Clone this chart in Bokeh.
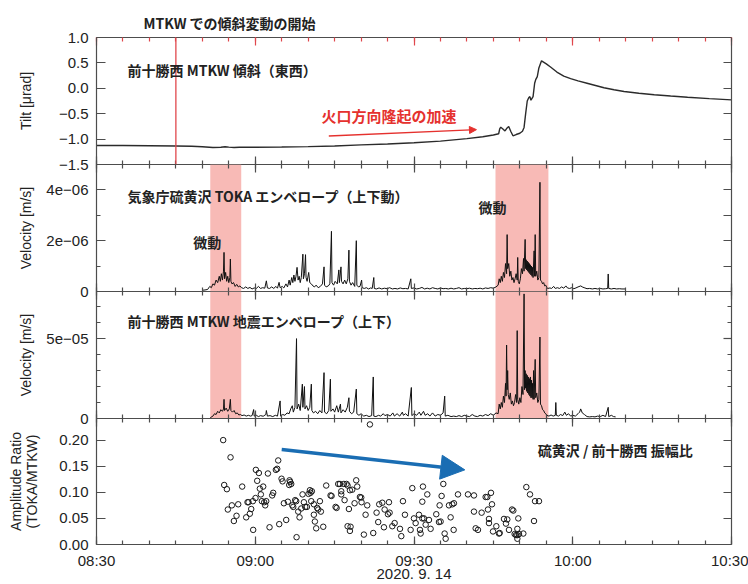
from bokeh.plotting import figure
from bokeh.layouts import column
from bokeh.models import (Range1d, LinearAxis, FixedTicker, CustomJSTickFormatter,
                          Span, BoxAnnotation, Label, Arrow, NormalHead, Title)
from bokeh.embed import file_html
from bokeh.resources import INLINE

# ---------------- data (time in minutes after 08:30, 2020-09-14) ----------------
x_tick_minutes = [0, 30, 60, 90, 120]
x_minor_minutes = list(range(0, 121, 5))
start_clock_minutes = 8 * 60 + 30
date_label = "2020. 9. 14"

tilt_min = [0, 5, 10, 15, 18, 20, 22, 23.5, 24.3, 25, 26, 27, 30, 35, 40, 45, 50, 55, 60, 65,
            70, 73, 75, 76.0, 76.2, 76.4, 76.8, 77.2, 77.6, 77.9, 78.3, 78.7, 79.3, 80.0, 80.5,
            80.8, 81.1, 81.4, 81.7, 81.9, 82.1, 82.3, 82.5, 82.8, 83.0, 83.3, 83.6, 84.1, 85.0,
            85.8, 87.0, 88.3, 89.6, 91.0, 92.7, 94.3, 95.9, 97.8, 99.7, 102.5, 105.4, 108.5,
            111.7, 115.8, 120.0]
tilt_urad = [-1.125, -1.127, -1.13, -1.135, -1.14, -1.15, -1.165, -1.16, -1.15, -1.158,
             -1.165, -1.16, -1.16, -1.155, -1.148, -1.135, -1.113, -1.095, -1.072, -1.04,
             -0.99, -0.955, -0.92, -0.895, -0.80, -0.765, -0.80, -0.84, -0.78, -0.75,
             -0.85, -0.935, -0.91, -0.885, -0.845, -0.77, -0.50, -0.25, -0.18, -0.165,
             -0.235, -0.20, -0.165, 0.10, 0.17, 0.23, 0.40, 0.54, 0.48, 0.42,
             0.32, 0.24, 0.19, 0.145, 0.10, 0.055, 0.01, -0.028, -0.062, -0.097,
             -0.128, -0.153, -0.176, -0.203, -0.228]

# TOKA envelope: (minute, velocity in 1e-6 m/s)
toka_pairs = [
    (20.0, 0.05), (20.5, 0.06), (21.0, 0.08), (21.4, 0.20), (21.7, 0.15), (22.0, 0.30), (22.3, 0.25),
    (22.6, 0.45), (22.9, 0.35), (23.2, 0.60), (23.4, 0.40), (23.6, 0.70), (23.8, 0.45), (24.0, 0.80),
    (24.1, 1.54), (24.2, 0.50), (24.4, 0.75), (24.6, 0.40), (24.8, 0.60), (25.0, 0.35), (25.2, 0.55),
    (25.3, 1.28), (25.4, 0.40), (25.6, 0.30), (25.9, 0.35), (26.2, 0.20), (26.5, 0.28), (26.8, 0.18),
    (27.1, 0.22), (27.4, 0.15), (27.8, 0.12), (28.2, 0.18), (28.6, 0.12), (29.0, 0.16), (29.4, 0.10),
    (29.8, 0.14), (30.2, 0.12), (30.6, 0.20), (31.0, 0.12), (31.4, 0.15), (31.8, 0.13), (32.1, 0.42),
    (32.3, 0.14), (32.7, 0.12), (33.1, 0.18), (33.5, 0.12), (33.9, 0.20), (34.2, 0.13), (34.5, 0.36),
    (34.7, 0.15), (35.1, 0.20), (35.4, 0.14), (35.8, 0.30), (36.1, 0.18), (36.4, 0.45), (36.6, 0.25),
    (36.9, 0.55), (37.1, 0.35), (37.3, 0.65), (37.5, 0.40), (37.7, 0.60), (37.9, 0.95), (38.1, 0.45),
    (38.3, 0.60), (38.5, 0.35), (38.7, 0.55), (39.0, 1.47), (39.1, 0.50), (39.3, 0.70), (39.5, 1.45),
    (39.6, 0.55), (39.8, 0.40), (40.1, 0.75), (40.3, 0.35), (40.6, 0.30), (40.9, 0.22), (41.2, 0.18),
    (41.5, 0.25), (41.9, 0.15), (42.3, 0.20), (42.7, 0.30), (43.0, 0.97), (43.1, 0.25), (43.4, 0.18),
    (43.8, 0.22), (44.1, 0.30), (44.4, 2.37), (44.5, 0.35), (44.8, 0.25), (45.1, 0.40), (45.5, 0.30),
    (45.8, 0.85), (45.9, 0.35), (46.2, 0.97), (46.3, 0.40), (46.6, 0.30), (46.9, 0.45), (47.2, 0.30),
    (47.5, 0.50), (47.7, 1.63), (47.8, 0.40), (48.1, 0.25), (48.4, 0.35), (48.8, 0.20), (49.1, 2.00),
    (49.2, 0.25), (49.5, 0.18), (49.8, 0.20), (50.1, 0.45), (50.2, 0.15), (50.6, 0.12), (51.0, 0.15),
    (51.4, 0.10), (51.8, 0.14), (52.1, 0.12), (52.4, 0.55), (52.5, 0.12), (52.9, 0.10), (53.4, 0.14),
    (53.9, 0.10), (54.4, 0.13), (54.9, 0.11), (55.4, 0.15), (55.9, 0.10), (56.4, 0.12), (56.9, 0.10),
    (57.4, 0.14), (57.9, 0.11), (58.4, 0.12), (58.9, 0.10), (59.4, 0.50), (59.5, 0.12), (60.0, 0.14),
    (60.5, 0.10), (61.0, 0.12), (61.5, 0.16), (62.0, 0.10), (62.5, 0.13), (63.0, 0.10), (63.5, 0.15),
    (64.0, 0.12), (64.5, 0.10), (65.0, 0.14), (65.5, 0.11), (66.0, 0.12), (66.5, 0.10), (67.0, 0.13),
    (67.5, 0.10), (68.0, 0.12), (68.5, 0.15), (69.0, 0.10), (69.5, 0.12), (70.0, 0.11), (70.5, 0.13),
    (71.0, 0.10), (71.5, 0.12), (72.0, 0.11), (72.5, 0.13), (73.0, 0.10), (73.5, 0.14), (74.0, 0.12),
    (74.5, 0.15), (75.0, 0.13), (75.5, 0.18), (75.9, 0.25), (76.1, 0.50), (76.3, 0.35), (76.5, 0.60),
    (76.7, 0.40), (76.9, 0.75), (77.1, 0.55), (77.3, 1.10), (77.5, 0.70), (77.6, 2.24), (77.7, 0.90),
    (77.9, 1.10), (78.1, 0.60), (78.3, 0.80), (78.5, 0.45), (78.7, 0.55), (78.9, 0.35), (79.1, 0.50),
    (79.3, 0.70), (79.5, 0.45), (79.6, 1.34), (79.7, 0.40), (79.9, 0.30), (80.1, 0.50), (80.3, 0.90),
    (80.5, 0.70), (80.7, 1.30), (80.8, 0.80), (81.0, 2.05), (81.1, 0.90), (81.2, 1.25), (81.3, 0.85),
    (81.4, 1.20), (81.5, 0.80), (81.6, 1.15), (81.7, 0.75), (81.8, 1.10), (81.9, 0.70), (82.0, 1.05),
    (82.1, 0.65), (82.2, 1.00), (82.3, 0.60), (82.4, 0.95), (82.5, 0.55), (82.7, 1.60), (82.8, 0.60),
    (82.9, 2.24), (83.0, 0.60), (83.2, 0.80), (83.4, 0.45), (83.6, 0.55), (83.8, 4.30), (83.9, 0.45),
    (84.1, 0.40), (84.3, 0.30), (84.5, 0.35), (84.7, 0.22), (84.9, 0.25), (85.1, 0.15), (85.3, 0.12),
    (85.7, 0.14), (86.0, 0.12), (86.4, 0.20), (86.7, 0.12), (87.1, 0.15), (87.5, 0.12), (87.9, 0.18),
    (88.3, 0.13), (88.7, 0.22), (89.0, 0.14), (89.4, 0.12), (89.8, 0.15), (90.2, 0.11), (90.6, 0.14),
    (91.0, 0.18), (91.5, 0.22), (91.9, 0.17), (92.3, 0.14), (92.7, 0.11), (93.2, 0.12), (93.7, 0.10),
    (94.2, 0.12), (94.7, 0.10), (95.2, 0.12), (95.7, 0.10), (96.2, 0.11), (96.6, 0.12), (96.7, 0.69),
    (96.8, 0.12), (97.3, 0.10), (97.8, 0.12), (98.3, 0.10), (98.8, 0.11), (99.3, 0.10), (100.0, 0.10),
]

# MTKW envelope: (minute, velocity in 1e-5 m/s)
mtkw_pairs = [
    (21.5, 0.05), (22.0, 0.15), (22.3, 0.30), (22.6, 0.25), (22.9, 0.45), (23.2, 0.35), (23.5, 0.55),
    (23.8, 0.45), (24.0, 0.60), (24.1, 1.20), (24.2, 0.50), (24.5, 0.65), (24.8, 0.45), (25.1, 0.60),
    (25.3, 1.20), (25.4, 0.50), (25.7, 0.40), (26.0, 0.50), (26.3, 0.30), (26.6, 0.35), (26.9, 0.22),
    (27.2, 0.25), (27.5, 0.18), (27.9, 0.22), (28.3, 0.15), (28.7, 0.20), (29.1, 0.15), (29.4, 0.18),
    (29.7, 0.56), (29.8, 0.15), (30.2, 0.20), (30.6, 0.12), (31.0, 0.18), (31.5, 0.14), (32.0, 0.25),
    (32.1, 0.50), (32.3, 0.15), (32.8, 0.18), (33.3, 0.12), (33.8, 0.20), (34.2, 0.15), (34.7, 1.10),
    (34.8, 0.15), (35.2, 0.25), (35.6, 0.20), (36.0, 0.35), (36.4, 0.30), (36.7, 0.60), (37.0, 0.80),
    (37.2, 0.40), (37.5, 0.70), (37.8, 5.00), (37.9, 0.60), (38.2, 0.90), (38.5, 0.50), (38.9, 2.15),
    (39.0, 0.70), (39.3, 2.00), (39.4, 0.60), (39.7, 0.80), (40.0, 0.50), (40.3, 0.70), (40.6, 2.15),
    (40.7, 0.50), (41.0, 0.35), (41.4, 0.45), (41.8, 0.30), (42.2, 0.50), (42.6, 0.35), (43.0, 2.87),
    (43.1, 0.40), (43.5, 0.30), (43.9, 0.50), (44.2, 2.46), (44.3, 0.45), (44.7, 0.60), (45.0, 0.40),
    (45.4, 0.80), (45.7, 0.40), (46.1, 0.90), (46.2, 0.35), (46.6, 0.55), (47.0, 0.40), (47.4, 0.70),
    (47.7, 1.30), (47.8, 0.45), (48.2, 0.30), (48.6, 0.40), (49.1, 1.84), (49.2, 0.30), (49.6, 0.20),
    (50.0, 0.30), (50.5, 0.15), (51.0, 0.20), (51.5, 0.12), (52.0, 0.18), (52.3, 2.60), (52.4, 0.15),
    (52.8, 0.12), (53.3, 0.20), (53.7, 0.15), (54.2, 0.30), (54.5, 0.18), (55.0, 0.25), (55.5, 0.15),
    (56.0, 0.35), (56.3, 0.15), (56.8, 0.30), (57.3, 0.15), (57.8, 0.40), (58.0, 0.20), (58.4, 0.30),
    (58.9, 0.15), (59.5, 1.94), (59.6, 0.18), (60.0, 0.30), (60.5, 0.20), (61.0, 0.40), (61.3, 0.20),
    (61.8, 0.45), (62.1, 0.20), (62.6, 0.30), (63.0, 0.15), (63.5, 0.35), (64.0, 0.15), (64.5, 0.25),
    (65.0, 0.20), (65.5, 0.35), (65.8, 1.40), (65.9, 0.15), (66.4, 0.20), (67.0, 0.12), (67.5, 0.15),
    (68.0, 0.12), (68.5, 0.18), (69.0, 0.12), (69.5, 0.20), (70.0, 0.15), (70.5, 0.12), (71.0, 0.25),
    (71.5, 0.15), (72.0, 0.12), (72.5, 0.20), (73.0, 0.15), (73.5, 0.25), (74.0, 0.18), (74.5, 0.30),
    (75.0, 0.20), (75.5, 0.35), (75.9, 0.30), (76.1, 0.90), (76.3, 0.60), (76.5, 1.00), (76.7, 0.70),
    (76.9, 1.40), (77.1, 1.00), (77.3, 2.20), (77.4, 1.40), (77.5, 4.60), (77.6, 1.80), (77.7, 3.00),
    (77.8, 1.50), (78.0, 1.20), (78.2, 1.60), (78.4, 0.90), (78.6, 1.10), (78.8, 0.80), (79.0, 1.00),
    (79.2, 1.50), (79.4, 1.00), (79.5, 5.50), (79.6, 1.20), (79.8, 0.90), (80.0, 1.30), (80.2, 1.00),
    (80.4, 2.00), (80.6, 1.50), (80.8, 7.80), (80.9, 1.80), (81.0, 3.00), (81.1, 1.90), (81.2, 2.80),
    (81.3, 1.70), (81.4, 2.70), (81.5, 1.60), (81.6, 2.60), (81.7, 1.50), (81.8, 2.50), (81.9, 1.40),
    (82.0, 2.60), (82.1, 1.30), (82.2, 2.40), (82.3, 1.30), (82.4, 2.20), (82.5, 1.20), (82.6, 3.00),
    (82.7, 1.20), (82.9, 3.70), (83.0, 1.30), (83.2, 1.60), (83.4, 1.00), (83.6, 1.20), (83.8, 5.10),
    (83.9, 0.90), (84.1, 0.80), (84.3, 0.55), (84.5, 0.50), (84.7, 0.35), (84.9, 0.30), (85.1, 0.20),
    (85.5, 0.15), (85.9, 0.22), (86.3, 0.15), (86.7, 0.20), (86.8, 1.00), (86.9, 0.20), (87.3, 0.15),
    (87.7, 0.25), (88.1, 0.18), (88.5, 0.40), (88.8, 0.20), (89.2, 0.30), (89.6, 0.15), (90.0, 0.20),
    (90.5, 0.15), (91.0, 0.30), (91.3, 0.40), (91.5, 0.60), (91.8, 0.35), (92.2, 0.25), (92.7, 0.12),
    (93.2, 0.10), (93.7, 0.12), (94.2, 0.10), (94.7, 0.15), (95.2, 0.12), (95.7, 0.20), (96.2, 0.12),
    (96.7, 0.70), (96.8, 0.12), (97.3, 0.20), (97.7, 0.12), (98.1, 0.10),
]

# Amplitude ratio TOKA/MTKW: (minute, ratio)
ratio_pairs = [
    (23.94, 0.200), (25.33, 0.167), (24.13, 0.114), (24.64, 0.106), (24.82, 0.067), (25.58, 0.075),
    (26.78, 0.077), (25.96, 0.045), (26.46, 0.055), (27.53, 0.111), (28.54, 0.081), (28.73, 0.081),
    (28.29, 0.052), (28.98, 0.059), (29.24, 0.068), (29.55, 0.083), (29.61, 0.028), (30.05, 0.089),
    (30.12, 0.143), (30.37, 0.122), (30.68, 0.137), (30.87, 0.107), (31.06, 0.096), (31.25, 0.083),
    (31.50, 0.111), (31.69, 0.081), (31.88, 0.075), (32.07, 0.083), (32.39, 0.136), (32.70, 0.033),
    (33.20, 0.094), (33.39, 0.099), (33.90, 0.143), (34.15, 0.145), (34.34, 0.161), (34.53, 0.039),
    (34.97, 0.126), (35.16, 0.121), (35.41, 0.079), (35.85, 0.047), (36.17, 0.082), (36.42, 0.114),
    (36.48, 0.123), (36.61, 0.120), (36.80, 0.116), (36.99, 0.075), (37.18, 0.072), (37.55, 0.085),
    (37.74, 0.083), (37.81, 0.014), (38.12, 0.063), (38.37, 0.052), (38.69, 0.069), (38.94, 0.096),
    (39.19, 0.081), (39.44, 0.072), (39.76, 0.072), (40.07, 0.097), (40.33, 0.104), (40.45, 0.099),
    (40.70, 0.102), (40.58, 0.083), (41.08, 0.077), (41.08, 0.057), (41.27, 0.044), (41.52, 0.031),
    (41.71, 0.070), (41.90, 0.067), (42.22, 0.083), (42.40, 0.063), (42.85, 0.034), (43.41, 0.113),
    (44.23, 0.094), (44.42, 0.093), (45.18, 0.072), (45.37, 0.070), (45.68, 0.116), (46.00, 0.116),
    (46.25, 0.102), (46.25, 0.096), (46.75, 0.116), (46.88, 0.085), (47.26, 0.116), (47.45, 0.113),
    (47.89, 0.104), (47.70, 0.068), (47.45, 0.035), (47.89, 0.026), (48.01, 0.034), (48.33, 0.105),
    (48.77, 0.079), (49.08, 0.123), (49.27, 0.111), (49.78, 0.091), (50.03, 0.090), (50.09, 0.081),
    (50.53, 0.019), (50.85, 0.057), (51.16, 0.075), (51.67, 0.230), (52.30, 0.022), (52.93, 0.061),
    (53.24, 0.043), (53.43, 0.077), (54.01, 0.080), (54.45, 0.067), (55.27, 0.081), (55.08, 0.058),
    (55.39, 0.061), (54.32, 0.033), (55.90, 0.035), (56.34, 0.041), (57.35, 0.030), (57.60, 0.016),
    (57.91, 0.083), (58.29, 0.057), (59.36, 0.028), (59.68, 0.108), (60.31, 0.041), (59.99, 0.050),
    (60.94, 0.057), (61.13, 0.028), (61.25, 0.021), (61.57, 0.082), (61.69, 0.111), (61.57, 0.050),
    (61.88, 0.050), (62.51, 0.096), (62.20, 0.038), (62.83, 0.047), (63.14, 0.030), (64.21, 0.058),
    (64.72, 0.043), (65.03, 0.044), (64.84, 0.075), (65.22, 0.093), (65.54, 0.116), (65.79, 0.021),
    (65.98, 0.011), (66.61, 0.075), (66.92, 0.052), (67.24, 0.077), (67.55, 0.079), (67.49, 0.028),
    (68.31, 0.096), (70.20, 0.096), (71.33, 0.094), (71.33, 0.063), (71.65, 0.031), (72.09, 0.028),
    (72.78, 0.061), (73.54, 0.091), (73.85, 0.091), (73.98, 0.067), (74.17, 0.049), (74.17, 0.041),
    (74.55, 0.099), (74.74, 0.077), (74.93, 0.025), (75.56, 0.035), (76.06, 0.021), (76.19, 0.022),
    (77.00, 0.049), (77.38, 0.040), (77.63, 0.048), (77.95, 0.028), (78.52, 0.067), (78.77, 0.065),
    (79.02, 0.020), (79.27, 0.018), (79.53, 0.018), (79.71, 0.050), (79.53, 0.011), (79.53, 0.030),
    (79.84, 0.020), (80.66, 0.021), (81.23, 0.110), (81.92, 0.096), (82.68, 0.045), (82.87, 0.083),
    (83.62, 0.083),
]

tremor_windows = [(21.5, 27.35), (75.4, 85.4)]   # minutes after 08:30
tilt_onset_min = 15.0                            # 08:45

toka_min = [a for a, b in toka_pairs]
toka_vel = [b * 1e-6 for a, b in toka_pairs]
mtkw_min = [a for a, b in mtkw_pairs]
mtkw_vel = [b * 1e-5 for a, b in mtkw_pairs]
ratio_min = [a for a, b in ratio_pairs]
ratio_val = [b for a, b in ratio_pairs]

# ---------------- styling ----------------
LAT = "Liberation Sans"
JP = "Noto Sans CJK JP"
EDGE = "#4d4d4d"
TXT = "#222222"
RED = "#e5312e"
PINK = "#f8bab6"
BLUE = "#1a6db3"
PAD = 10          # transparent overlap band between stacked panels


def base(height, yr, top=PAD, bottom=PAD, overlap=True):
    p = figure(width=748, height=height, x_range=Range1d(0, 120), y_range=Range1d(*yr),
               output_backend="svg", toolbar_location=None,
               x_axis_location=None, y_axis_location=None,
               min_border_left=96, min_border_right=17,
               min_border_top=top, min_border_bottom=bottom,
               margin=(-2 * PAD, 0, 0, 0) if overlap else (0, 0, 0, 0))
    p.outline_line_color = None
    p.grid.visible = False
    p.border_fill_color = None
    p.background_fill_color = None
    return p


def blank_labels(ax):
    ax.formatter = CustomJSTickFormatter(code="return '';")
    ax.major_label_text_font_size = "0px"
    ax.major_label_standoff = 0


def add_xaxes(p, labels=False, top_line=True, top_tick_color=EDGE):
    for loc in ("above", "below"):
        ax = LinearAxis(ticker=FixedTicker(ticks=x_tick_minutes, minor_ticks=x_minor_minutes))
        ax.major_tick_in = 8
        ax.major_tick_out = 0
        ax.minor_tick_in = 4
        ax.minor_tick_out = 0
        col = top_tick_color if loc == "above" else EDGE
        ax.major_tick_line_color = col
        ax.minor_tick_line_color = col
        ax.major_tick_line_width = 1.2
        ax.minor_tick_line_width = 1.2
        ax.axis_line_color = EDGE if (loc == "below" or top_line) else None
        ax.axis_line_width = 1.2
        if labels and loc == "below":
            ax.formatter = CustomJSTickFormatter(
                args=dict(s=start_clock_minutes),
                code="const m = Math.round(s + tick); const h = Math.floor(m/60), mm = m % 60;"
                     "return String(h).padStart(2,'0') + ':' + String(mm).padStart(2,'0');")
            ax.major_label_text_font = LAT
            ax.major_label_text_font_size = "15px"
            ax.major_label_text_color = TXT
            ax.major_label_standoff = 7
            ax.axis_label = date_label
            ax.axis_label_text_font = LAT
            ax.axis_label_text_font_size = "15px"
            ax.axis_label_text_font_style = "normal"
            ax.axis_label_text_color = TXT
            ax.axis_label_standoff = -7
        else:
            blank_labels(ax)
        p.add_layout(ax, loc)


def add_yaxes(p, left_major, left_minor, right_major, right_minor, code, label, standoff,
              label_line_height=1.2):
    left = LinearAxis(ticker=FixedTicker(ticks=left_major, minor_ticks=left_minor),
                      formatter=CustomJSTickFormatter(code=code))
    left.major_tick_in = 9
    left.major_tick_out = 0
    left.minor_tick_in = 4
    left.minor_tick_out = 0
    left.major_tick_line_color = EDGE
    left.minor_tick_line_color = EDGE
    left.major_tick_line_width = 1.2
    left.minor_tick_line_width = 1.2
    left.axis_line_color = EDGE
    left.axis_line_width = 1.2
    left.major_label_standoff = 8
    left.major_label_text_font = LAT
    left.major_label_text_font_size = "15px"
    left.major_label_text_color = TXT
    left.axis_label = label
    left.axis_label_text_font = LAT
    left.axis_label_text_font_size = "14px"
    left.axis_label_text_font_style = "normal"
    left.axis_label_text_color = TXT
    left.axis_label_standoff = standoff
    left.axis_label_text_line_height = label_line_height
    p.add_layout(left, "left")

    right = LinearAxis(ticker=FixedTicker(ticks=right_major, minor_ticks=right_minor))
    right.major_tick_in = 8
    right.major_tick_out = 0
    right.minor_tick_in = 4
    right.minor_tick_out = 0
    right.major_tick_line_color = EDGE
    right.minor_tick_line_color = EDGE
    right.major_tick_line_width = 1.2
    right.minor_tick_line_width = 1.2
    right.axis_line_color = EDGE
    right.axis_line_width = 1.2
    blank_labels(right)
    p.add_layout(right, "right")


def jp_label(p, x, y, text, color=TXT, size="14px"):
    p.add_layout(Label(x=x, y=y, text=text, text_font=JP, text_font_size=size,
                       text_font_style="bold", text_color=color,
                       text_align="left", text_baseline="middle"))


# ---------------- panel 1: tilt ----------------
p1 = base(164 + PAD, (-1.5, 1.0), top=37, overlap=False)
add_yaxes(p1, [-1.5, -1.0, -0.5, 0.0, 0.5, 1.0], [], [-1.0, -0.5, 0.0, 0.5], [],
          "return (tick < 0 ? '\u2212' : '') + Math.abs(tick).toFixed(1);",
          "Tilt [\u03bcrad]", 22)
add_xaxes(p1, top_tick_color="#e0474c")
p1.add_layout(Span(location=tilt_onset_min, dimension="height", line_color="#e0474c", line_width=1.3))
p1.line(tilt_min, tilt_urad, line_color="#2b2b2b", line_width=1.4)
p1.add_layout(Title(text="MTKW での傾斜変動の開始", align="left", offset=47, standoff=9,
                    text_font=JP, text_font_size="14px", text_font_style="bold",
                    text_color=TXT), "above")
jp_label(p1, 5.86, 0.356, "前十勝西 MTKW 傾斜（東西）")
jp_label(p1, 42.5, -0.54, "火口方向隆起の加速", color=RED, size="15px")
p1.add_layout(Arrow(x_start=43.9, y_start=-0.939, x_end=71.8, y_end=-0.814,
                    line_color=RED, line_width=1.3,
                    end=NormalHead(size=7, fill_color=RED, line_color=RED)))

# ---------------- panel 2: TOKA envelope ----------------
p2 = base(127 + 2 * PAD, (0, 5.0e-6))
add_yaxes(p2, [0, 2e-6, 4e-6], [1e-6, 3e-6], [1e-6, 2e-6, 3e-6, 4e-6], [],
          "if (Math.abs(tick) < 1e-12) return '0'; return Math.round(tick*1e6) + 'e\u221206';",
          "Velocity [m/s]", 9)
add_xaxes(p2, top_line=False)
for a, b in tremor_windows:
    p2.add_layout(BoxAnnotation(left=a, right=b, fill_color=PINK, fill_alpha=1.0,
                                line_color=None, level="underlay"))
p2.line(toka_min, toka_vel, line_color="#111111", line_width=1.0)
jp_label(p2, 5.86, 3.75e-6, "気象庁硫黄沢 TOKA エンベロープ（上下動）")
jp_label(p2, 18.3, 1.96e-6, "微動")
jp_label(p2, 72.2, 3.31e-6, "微動")

# ---------------- panel 3: MTKW envelope ----------------
p3 = base(127 + 2 * PAD, (0, 7.95e-5))
add_yaxes(p3, [0, 5e-5], [1e-5, 2e-5, 3e-5, 4e-5, 6e-5, 7e-5],
          [5e-5], [1e-5, 2e-5, 3e-5, 4e-5, 6e-5, 7e-5],
          "if (Math.abs(tick) < 1e-12) return '0'; return Math.round(tick*1e5) + 'e\u221205';",
          "Velocity [m/s]", 9)
add_xaxes(p3, top_line=False)
for a, b in tremor_windows:
    p3.add_layout(BoxAnnotation(left=a, right=b, fill_color=PINK, fill_alpha=1.0,
                                line_color=None, level="underlay"))
p3.line(mtkw_min, mtkw_vel, line_color="#111111", line_width=1.0)
jp_label(p3, 5.86, 6.1e-5, "前十勝西 MTKW 地震エンベロープ（上下）")

# ---------------- panel 4: amplitude ratio ----------------
p4 = base(166 + PAD, (0, 0.2414), bottom=39)
add_yaxes(p4, [0, 0.05, 0.10, 0.15, 0.20], [], [0.05, 0.10, 0.15, 0.20], [],
          "return tick.toFixed(2);", "Amplitude Ratio\n(TOKA/MTKW)", 16, label_line_height=1.0)
add_xaxes(p4, labels=True, top_line=False)
p4.scatter(ratio_min, ratio_val, marker="circle", size=5.5, fill_color=None,
           line_color="#1a1a1a", line_width=1.0)
p4.add_layout(Arrow(x_start=35.0, y_start=0.182, x_end=69.6, y_end=0.143,
                    line_color=BLUE, line_width=3.5,
                    end=NormalHead(size=24, fill_color=BLUE, line_color=BLUE)))
jp_label(p4, 83.4, 0.182, "硫黄沢 / 前十勝西 振幅比")

layout = column(p1, p2, p3, p4, spacing=0)
open("out.html", "w", encoding="utf-8").write(file_html(layout, INLINE))
